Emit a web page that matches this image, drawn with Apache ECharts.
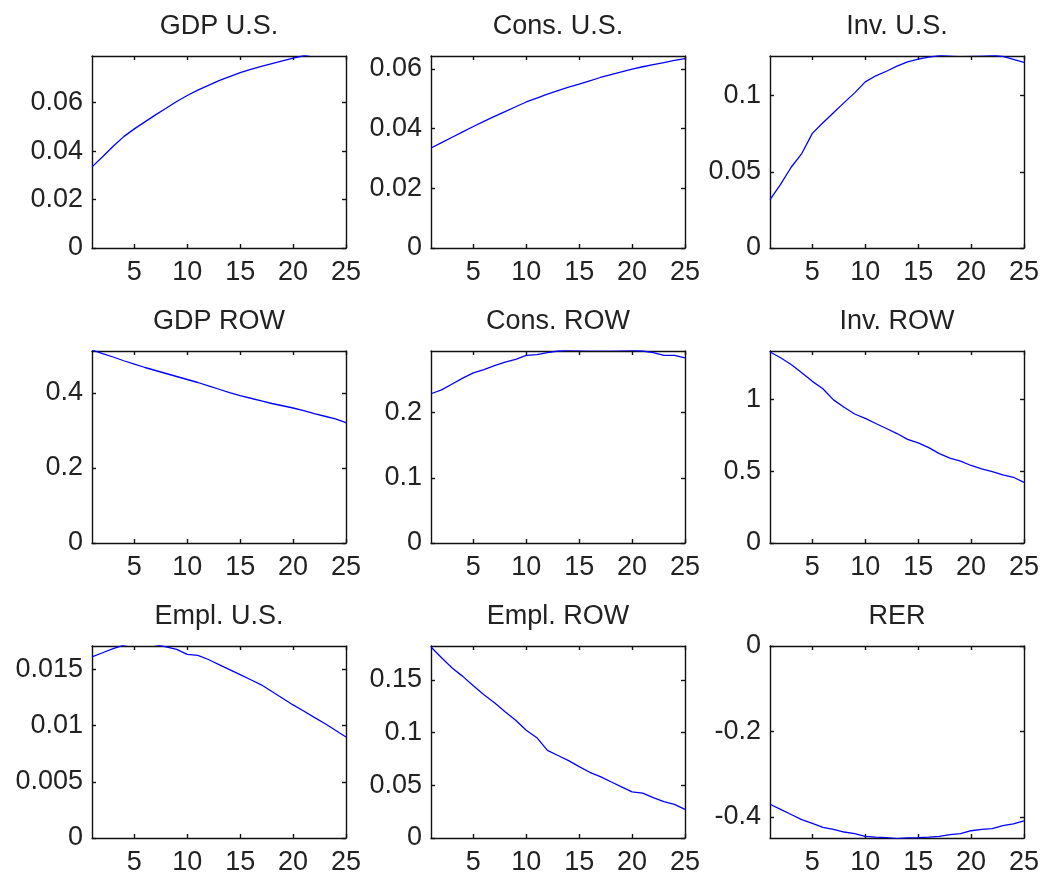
<!DOCTYPE html>
<html>
<head>
<meta charset="utf-8">
<script src="https://cdn.jsdelivr.net/npm/echarts@6/dist/echarts.min.js"></script>
<style>
  html, body { margin: 0; padding: 0; background: #fff; }
  #chart { width: 1043px; height: 880px; }
</style>
</head>
<body>
<div id="chart"></div>
<script>
// horizon (quarters) and x tick labels
var periods = [1,2,3,4,5,6,7,8,9,10,11,12,13,14,15,16,17,18,19,20,21,22,23,24,25];
var xTicks = [5, 10, 15, 20, 25];

// panel titles
var titles = ['GDP U.S.', 'Cons. U.S.', 'Inv. U.S.', 'GDP ROW', 'Cons. ROW', 'Inv. ROW', 'Empl. U.S.', 'Empl. ROW', 'RER'];

// impulse responses
var gdpUS = [0.0335,0.0377,0.0420,0.0460,0.0492,0.0521,0.0550,0.0577,0.0605,0.0630,0.0652,0.0672,0.0691,0.0708,0.0724,0.0738,0.0750,0.0762,0.0773,0.0784,0.0794,0.0803,0.0811,0.0817,0.0822];
var consUS = [0.0335,0.0353,0.0371,0.0389,0.0407,0.0424,0.0441,0.0457,0.0473,0.0489,0.0502,0.0515,0.0527,0.0539,0.0549,0.0560,0.0571,0.0581,0.0590,0.0599,0.0607,0.0614,0.0621,0.0628,0.0634];
var invUS = [0.0318,0.0417,0.0530,0.0620,0.0752,0.0822,0.0888,0.0954,0.1018,0.1090,0.1130,0.1160,0.1193,0.1222,0.1240,0.1252,0.1262,0.1268,0.1271,0.1270,0.1268,0.1265,0.1258,0.1238,0.1218];
var gdpROW = [0.515,0.505,0.496,0.486,0.477,0.468,0.460,0.452,0.444,0.436,0.428,0.419,0.410,0.401,0.393,0.386,0.379,0.372,0.366,0.360,0.353,0.345,0.338,0.331,0.321];
var consROW = [0.229,0.235,0.244,0.253,0.261,0.266,0.272,0.2775,0.2817,0.2879,0.289,0.292,0.2946,0.2955,0.296,0.2965,0.2966,0.2964,0.296,0.2955,0.2946,0.292,0.288,0.288,0.284];
var invROW = [1.328,1.288,1.241,1.183,1.124,1.073,0.995,0.944,0.897,0.867,0.831,0.796,0.761,0.721,0.696,0.663,0.621,0.590,0.569,0.539,0.515,0.497,0.473,0.457,0.422];
var emplUS = [0.01611,0.01647,0.01683,0.01715,0.0173,0.0173,0.0172,0.0170,0.01677,0.01632,0.01623,0.01587,0.01542,0.01497,0.01452,0.01407,0.01362,0.01302,0.01243,0.01183,0.01129,0.01072,0.01018,0.00958,0.00898];
var emplROW = [0.181,0.1708,0.1612,0.1532,0.1443,0.1357,0.1283,0.1197,0.1117,0.1021,0.0951,0.0830,0.0782,0.0734,0.0677,0.0623,0.0581,0.0533,0.0485,0.0437,0.0425,0.0383,0.0345,0.0319,0.0271];
var rer = [-0.370,-0.382,-0.394,-0.406,-0.415,-0.424,-0.429,-0.435,-0.439,-0.445,-0.447,-0.448,-0.4505,-0.4485,-0.448,-0.447,-0.445,-0.441,-0.439,-0.432,-0.429,-0.427,-0.420,-0.416,-0.409];

// y axis limits and tick labels per panel
var yMin = [0, 0, 0, 0, 0, 0, 0, 0, -0.449];
var yMax = [0.0793, 0.0643, 0.126, 0.512, 0.2946, 1.335, 0.01707, 0.182, 0];
var yTicks = [
  [0, 0.02, 0.04, 0.06],
  [0, 0.02, 0.04, 0.06],
  [0, 0.05, 0.1],
  [0, 0.2, 0.4],
  [0, 0.1, 0.2],
  [0, 0.5, 1],
  [0, 0.005, 0.01, 0.015],
  [0, 0.05, 0.1, 0.15],
  [-0.4, -0.2, 0]
];
var seriesData = [gdpUS, consUS, invUS, gdpROW, consROW, invROW, emplUS, emplROW, rer];

var colLeft = [92, 431, 770];
var rowTop = [56, 351, 646];
var boxW = 254, boxH = 192;
var font = 'Liberation Sans, Arial, Helvetica, sans-serif';
var fontSize = 27;
var ink = '#222';

var grids = [], xAxes = [], yAxes = [], series = [], titleList = [];

for (var i = 0; i < 9; i++) {
  var r = Math.floor(i / 3), c = i % 3;
  grids.push({ left: colLeft[c], top: rowTop[r], width: boxW, height: boxH, containLabel: false });

  titleList.push({
    text: titles[i],
    left: colLeft[c] + boxW / 2,
    top: rowTop[r] - 43,
    textAlign: 'center',
    padding: 0,
    textStyle: { fontFamily: font, fontSize: fontSize, fontWeight: 'normal', color: ink }
  });

  var lineStyle = { color: '#111', width: 1.4 };
  // bottom + top x axes
  xAxes.push({
    gridIndex: i, type: 'value', min: 1, max: 25, position: 'bottom',
    axisLine: { show: true, onZero: false, lineStyle: lineStyle },
    axisTick: { show: true, inside: true, length: 4, customValues: xTicks, lineStyle: lineStyle },
    axisLabel: { show: true, customValues: xTicks, margin: 11, fontFamily: font, fontSize: fontSize, color: ink },
    splitLine: { show: false }
  });
  xAxes.push({
    gridIndex: i, type: 'value', min: 1, max: 25, position: 'top',
    axisLine: { show: true, onZero: false, lineStyle: lineStyle },
    axisTick: { show: true, inside: true, length: 4, customValues: xTicks, lineStyle: lineStyle },
    axisLabel: { show: false },
    splitLine: { show: false }
  });
  // left + right y axes
  yAxes.push({
    gridIndex: i, type: 'value', min: yMin[i], max: yMax[i], position: 'left',
    axisLine: { show: true, onZero: false, lineStyle: lineStyle },
    axisTick: { show: true, inside: true, length: 4, customValues: yTicks[i], lineStyle: lineStyle },
    axisLabel: { show: true, customValues: yTicks[i], margin: 9, fontFamily: font, fontSize: fontSize, color: ink },
    splitLine: { show: false }
  });
  yAxes.push({
    gridIndex: i, type: 'value', min: yMin[i], max: yMax[i], position: 'right',
    axisLine: { show: true, onZero: false, lineStyle: lineStyle },
    axisTick: { show: true, inside: true, length: 4, customValues: yTicks[i], lineStyle: lineStyle },
    axisLabel: { show: false },
    splitLine: { show: false }
  });

  series.push({
    type: 'line',
    xAxisIndex: 2 * i,
    yAxisIndex: 2 * i,
    data: periods.map(function (p, k) { return [p, seriesData[i][k]]; }),
    showSymbol: false,
    clip: true,
    lineStyle: { color: '#0000ff', width: 1.3 },
    itemStyle: { color: '#0000ff' }
  });
}

var myChart = echarts.init(document.getElementById('chart'), null, { renderer: 'canvas' });
myChart.setOption({
  animation: false,
  backgroundColor: '#fff',
  title: titleList,
  grid: grids,
  xAxis: xAxes,
  yAxis: yAxes,
  series: series
});
</script>
</body>
</html>
